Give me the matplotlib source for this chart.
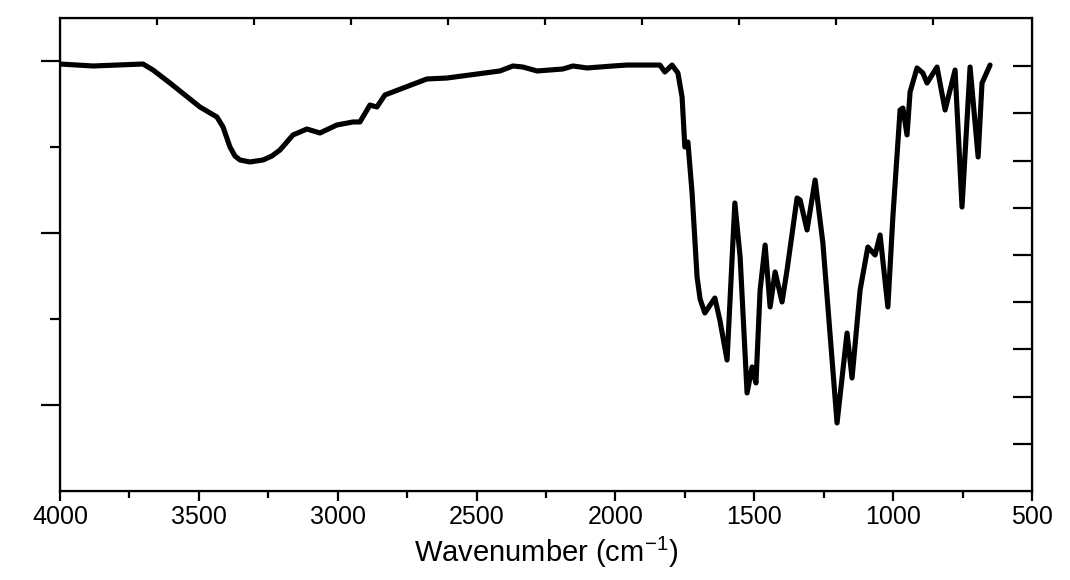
import numpy as np
import matplotlib
matplotlib.use('Agg')
import matplotlib.pyplot as plt
from matplotlib.ticker import MultipleLocator, FixedLocator, NullFormatter

plt.rcParams['font.family'] = ['Liberation Sans', 'DejaVu Sans']
plt.rcParams['mathtext.fontset'] = 'custom'
plt.rcParams['mathtext.rm'] = 'Liberation Sans'

# FTIR spectrum (wavenumber, transmittance in arbitrary units)
wavenumber = [4000, 3881, 3701, 3665, 3604, 3496, 3435, 3413, 3388, 3370,
              3352, 3316, 3269, 3237, 3208, 3161, 3111, 3064, 3003, 2945,
              2920, 2884, 2859, 2830, 2679, 2607, 2416, 2369, 2333, 2282,
              2189, 2153, 2102, 2009, 1958, 1840, 1822, 1796, 1775, 1760,
              1750, 1739, 1724, 1706, 1695, 1678, 1642, 1624, 1598, 1570,
              1551, 1526, 1508, 1494, 1479, 1461, 1443, 1425, 1400, 1382,
              1346, 1335, 1310, 1281, 1253, 1202, 1166, 1148, 1119, 1091,
              1065, 1047, 1019, 1001, 975, 965, 950, 939, 914, 893,
              878, 842, 813, 777, 752, 723, 694, 680, 651]
transmittance = [49.65, 49.42, 49.65, 48.95, 47.44, 44.65, 43.49, 42.33, 40.0, 38.95,
                 38.49, 38.26, 38.49, 38.95, 39.65, 41.40, 42.09, 41.63, 42.56, 42.91,
                 42.91, 44.88, 44.65, 46.05, 47.91, 48.02, 48.84, 49.42, 49.30, 48.84,
                 49.07, 49.42, 49.19, 49.42, 49.53, 49.53, 48.72, 49.53, 48.60, 45.81,
                 40.0, 40.58, 34.65, 24.88, 22.3, 20.70, 22.44, 19.88, 15.23, 33.49,
                 27.21, 11.40, 14.42, 12.56, 23.37, 28.60, 21.40, 25.47, 21.98, 25.70,
                 34.07, 33.84, 30.35, 36.16, 28.84, 7.91, 18.37, 13.14, 23.37, 28.37,
                 27.44, 29.77, 21.40, 31.86, 44.30, 44.53, 41.40, 46.40, 49.19, 48.60,
                 47.44, 49.30, 44.30, 48.95, 33.02, 49.30, 38.84, 47.44, 49.53]

fig = plt.figure(figsize=(10.7, 5.8), dpi=100)
ax = fig.add_axes([60 / 1070, 89 / 580, 972 / 1070, 473 / 580])

ax.plot(wavenumber, transmittance, color='black', lw=3.7,
        solid_joinstyle='round', solid_capstyle='round')

ax.set_xlim(4000, 500)
ax.set_ylim(0, 55)

ax.xaxis.set_major_locator(MultipleLocator(500))
ax.xaxis.set_minor_locator(MultipleLocator(250))
ax.yaxis.set_major_locator(FixedLocator([10, 30, 50]))
ax.yaxis.set_minor_locator(FixedLocator([20, 40]))
ax.yaxis.set_major_formatter(NullFormatter())

ax.tick_params(axis='x', which='major', direction='out', length=7, width=1.6,
               labelsize=18, pad=3, top=False)
ax.tick_params(axis='x', which='minor', direction='out', length=5, width=1.6, top=False)
ax.tick_params(axis='y', which='major', direction='out', length=14, width=1.6, right=False)
ax.tick_params(axis='y', which='minor', direction='out', length=7, width=1.6, right=False)

for s in ax.spines.values():
    s.set_linewidth(1.6)

ax.set_xlabel('Wavenumber (cm$^{-1}$)', fontsize=21, labelpad=4)

# right-hand and top frame ticks use their own spacing
axr = ax.twinx()
axr.set_ylim(0, 10.02)
axr.yaxis.set_major_locator(FixedLocator(np.arange(1, 10)))
axr.yaxis.set_major_formatter(NullFormatter())
axr.tick_params(axis='y', direction='in', length=14, width=1.6)

axt = ax.twiny()
axt.set_xlim(0, 10.02)
axt.xaxis.set_major_locator(FixedLocator(np.arange(1, 10)))
axt.xaxis.set_major_formatter(NullFormatter())
axt.tick_params(axis='x', direction='in', length=5, width=1.6)

fig.savefig('out.png', dpi=100)
